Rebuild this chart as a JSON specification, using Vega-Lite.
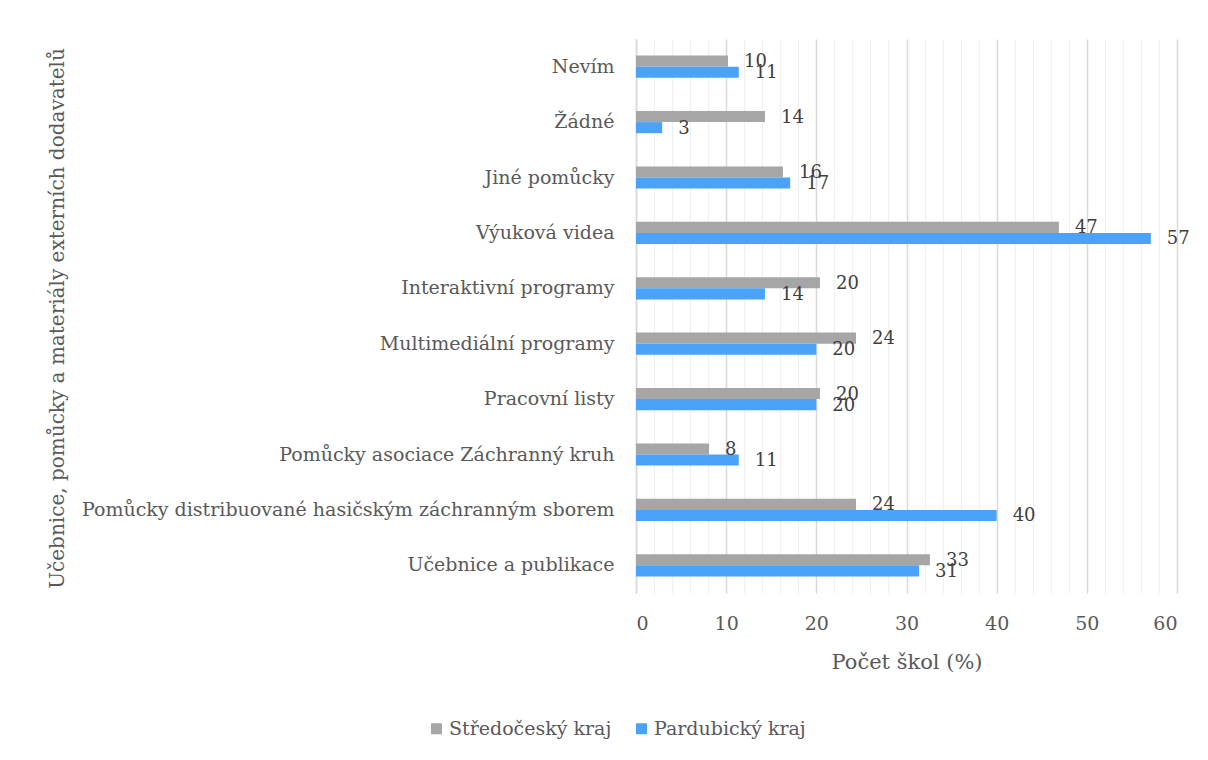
{
  "$schema": "https://vega.github.io/schema/vega-lite/v6.json",
  "width": 541,
  "height": 554,
  "autosize": "none",
  "padding": {"left": 636, "top": 39, "right": 31, "bottom": 167},
  "background": "white",
  "config": {
    "font": "DejaVu Serif",
    "view": {"stroke": null}
  },
  "data": {
    "values": [
      {"kategorie": "Nevím", "kraj": "Středočeský kraj", "hodnota": 10.2},
      {"kategorie": "Nevím", "kraj": "Pardubický kraj", "hodnota": 11.4},
      {"kategorie": "Žádné", "kraj": "Středočeský kraj", "hodnota": 14.3},
      {"kategorie": "Žádné", "kraj": "Pardubický kraj", "hodnota": 2.9},
      {"kategorie": "Jiné pomůcky", "kraj": "Středočeský kraj", "hodnota": 16.3},
      {"kategorie": "Jiné pomůcky", "kraj": "Pardubický kraj", "hodnota": 17.1},
      {"kategorie": "Výuková videa", "kraj": "Středočeský kraj", "hodnota": 46.9},
      {"kategorie": "Výuková videa", "kraj": "Pardubický kraj", "hodnota": 57.1},
      {"kategorie": "Interaktivní programy", "kraj": "Středočeský kraj", "hodnota": 20.4},
      {"kategorie": "Interaktivní programy", "kraj": "Pardubický kraj", "hodnota": 14.3},
      {"kategorie": "Multimediální programy", "kraj": "Středočeský kraj", "hodnota": 24.4},
      {"kategorie": "Multimediální programy", "kraj": "Pardubický kraj", "hodnota": 20.0},
      {"kategorie": "Pracovní listy", "kraj": "Středočeský kraj", "hodnota": 20.4},
      {"kategorie": "Pracovní listy", "kraj": "Pardubický kraj", "hodnota": 20.0},
      {"kategorie": "Pomůcky asociace Záchranný kruh", "kraj": "Středočeský kraj", "hodnota": 8.1},
      {"kategorie": "Pomůcky asociace Záchranný kruh", "kraj": "Pardubický kraj", "hodnota": 11.4},
      {"kategorie": "Pomůcky distribuované hasičským záchranným sborem", "kraj": "Středočeský kraj", "hodnota": 24.4},
      {"kategorie": "Pomůcky distribuované hasičským záchranným sborem", "kraj": "Pardubický kraj", "hodnota": 40.0},
      {"kategorie": "Učebnice a publikace", "kraj": "Středočeský kraj", "hodnota": 32.6},
      {"kategorie": "Učebnice a publikace", "kraj": "Pardubický kraj", "hodnota": 31.4}
    ]
  },
  "encoding": {
    "y": {
      "field": "kategorie",
      "type": "nominal",
      "sort": null,
      "scale": {"paddingInner": 0.6, "paddingOuter": 0.3},
      "axis": {
        "title": "Učebnice, pomůcky a materiály externích dodavatelů",
        "titleFont": "DejaVu Serif",
        "titleFontSize": 20,
        "titleFontWeight": "normal",
        "titleColor": "#595959",
        "titleX": -569,
        "titleY": 279,
        "titleAnchor": "middle",
        "labelFont": "DejaVu Serif",
        "labelFontSize": 19,
        "labelColor": "#595959",
        "labelPadding": 22,
        "labelLimit": 700,
        "ticks": false,
        "domainColor": "#d9d9d9",
        "domainWidth": 1.5,
        "grid": false
      }
    },
    "yOffset": {"field": "kraj", "type": "nominal", "sort": ["Středočeský kraj", "Pardubický kraj"], "scale": {"paddingInner": 0}},
    "x": {
      "field": "hodnota",
      "type": "quantitative",
      "scale": {"domain": [0, 60], "nice": false},
      "axis": {
        "title": "Počet škol (%)",
        "titleFont": "DejaVu Serif",
        "titleFontSize": 21,
        "titleFontWeight": "normal",
        "titleColor": "#595959",
        "titlePadding": 18,
        "values": [0, 2, 4, 6, 8, 10, 12, 14, 16, 18, 20, 22, 24, 26, 28, 30, 32, 34, 36, 38, 40, 42, 44, 46, 48, 50, 52, 54, 56, 58, 60],
        "labelExpr": "datum.value % 10 === 0 ? datum.label : ''",
        "labelFont": "DejaVu Serif",
        "labelFontSize": 19,
        "labelColor": "#595959",
        "labelPadding": 21,
        "ticks": false,
        "domain": false,
        "grid": true,
        "gridColor": {"condition": {"test": "datum.value % 10 === 0", "value": "#d9d9d9"}, "value": "#f0f0f0"},
        "gridWidth": {"condition": {"test": "datum.value % 10 === 0", "value": 1.5}, "value": 1.2}
      }
    }
  },
  "layer": [
    {
      "mark": {"type": "bar"},
      "encoding": {
        "color": {
          "field": "kraj",
          "type": "nominal",
          "sort": ["Středočeský kraj", "Pardubický kraj"],
          "scale": {"domain": ["Středočeský kraj", "Pardubický kraj"], "range": ["#a6a6a6", "#4aa3f8"]},
          "legend": {
            "title": null,
            "orient": "none",
            "direction": "horizontal",
            "legendX": -209,
            "legendY": 680,
            "symbolType": "square",
            "symbolSize": 121,
            "symbolStrokeWidth": 0,
            "labelFont": "DejaVu Serif",
            "labelFontSize": 19,
            "labelColor": "#595959",
            "labelOffset": 3,
            "labelLimit": 300,
            "columnPadding": 20
          }
        }
      }
    },
    {
      "mark": {"type": "text", "align": "left", "baseline": "middle", "dx": 16, "dy": 1, "fontSize": 18, "font": "DejaVu Serif", "color": "#404040"},
      "encoding": {
        "text": {"field": "hodnota", "type": "quantitative", "format": ".0f"}
      }
    }
  ]
}
